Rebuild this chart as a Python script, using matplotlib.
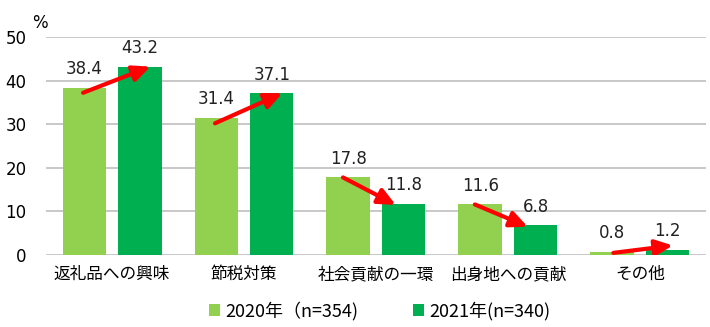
import matplotlib
matplotlib.use("Agg")
import matplotlib.pyplot as plt
import numpy as np
from matplotlib.patches import FancyArrowPatch

categories = ["返礼品への興味", "節税対策", "社会貢献の一環", "出身地への貢献", "その他"]
values_2020 = [38.4, 31.4, 17.8, 11.6, 0.8]
values_2021 = [43.2, 37.1, 11.8, 6.8, 1.2]
series_labels = ["2020年（n=354)", "2021年(n=340)"]
yticks = [0, 10, 20, 30, 40, 50]

plt.rcParams['font.family'] = ['DejaVu Sans', 'Noto Sans CJK JP']

fig = plt.figure(figsize=(7.10, 3.27), dpi=100)
ax = fig.add_axes([0.065, 0.22, 0.929, 0.667])

x = np.arange(len(categories))
off = 0.21
w = 0.33
c1, c2 = "#92D050", "#00B050"
b1 = ax.bar(x - off, values_2020, w, color=c1, label=series_labels[0], zorder=2)
b2 = ax.bar(x + off, values_2021, w, color=c2, label=series_labels[1], zorder=2)

for xi, v in zip(x - off, values_2020):
    ax.text(xi, v + 2.2, f"{v}", ha="center", va="bottom", fontsize=12, color="#222222")
for xi, v in zip(x + off, values_2021):
    ax.text(xi, v + 2.2, f"{v}", ha="center", va="bottom", fontsize=12, color="#222222")

for xi, v1, v2 in zip(x, values_2020, values_2021):
    if v2 >= v1:
        if v1 > 5:
            start = (xi - off - 0.01, v1 - 1.2)
            end = (xi + off + 0.08, v2)
        else:
            start = (xi - off + 0.01, v1 - 0.3)
            end = (xi + off + 0.04, v2 + 1.0)
    else:
        start = (xi - off - 0.04, v1)
        end = (xi + off - 0.06, v2 - 0.3)
    arr = FancyArrowPatch(start, end, arrowstyle="-|>,head_length=6.5,head_width=3",
                          color="#FF0000", lw=3.0, mutation_scale=1.6, zorder=4,
                          shrinkA=0, shrinkB=0)
    ax.add_patch(arr)

ax.set_ylim(0, 50)
ax.set_xlim(-0.5, len(categories) - 0.5)
ax.set_yticks(yticks)
ax.set_yticklabels([str(t) for t in yticks], fontsize=12)
ax.set_xticks(x)
ax.set_xticklabels(categories, fontsize=12, family=['Noto Sans CJK JP', 'DejaVu Sans'])
ax.tick_params(axis='both', length=0, pad=8)
ax.tick_params(axis='y', pad=14)
ax.yaxis.grid(True, color="#BFBFBF", lw=1.2, zorder=0)
ax.set_axisbelow(True)
for s in ax.spines.values():
    s.set_visible(False)

fig.text(0.056, 0.93, "%", fontsize=12, ha="center", va="center")

leg = fig.legend(handles=[b1, b2], labels=series_labels, loc="center",
                 bbox_to_anchor=(0.535, 0.05), ncol=2, frameon=False,
                 prop={'family': ['Noto Sans CJK JP', 'DejaVu Sans'], 'size': 13},
                 handlelength=0.6, handleheight=0.6, handletextpad=0.3, columnspacing=3.0)

fig.savefig("out.png", dpi=100)
